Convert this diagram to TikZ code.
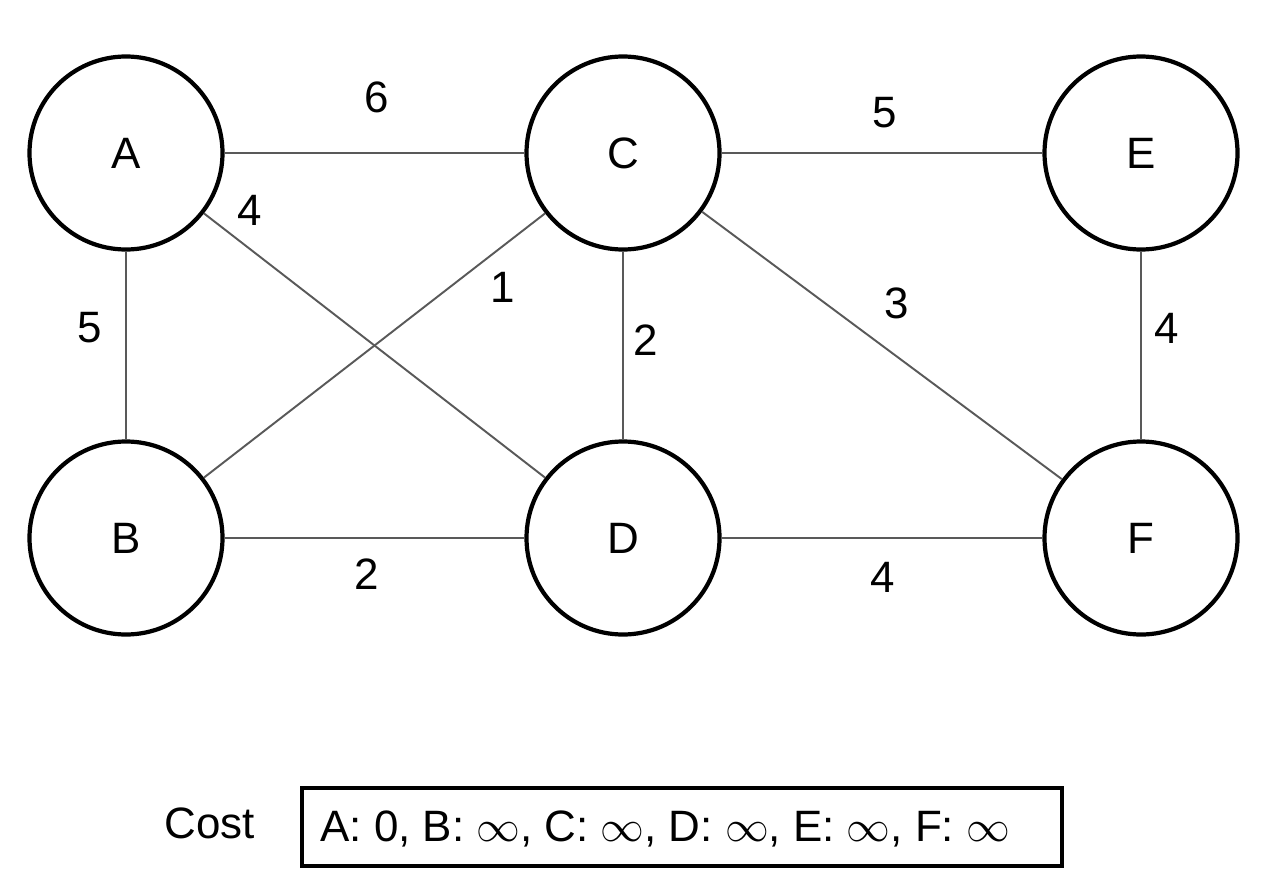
\documentclass[tikz,border=0pt]{standalone}
\usepackage{fontspec}
\setmainfont{Liberation Sans}
\begin{document}
\begin{tikzpicture}[x=0.02cm,y=-0.02cm,
  vertex/.style={circle,draw=black,line width=2.4pt,minimum size=193*0.02cm,inner sep=0pt,font=\fontsize{25}{30}\selectfont},
  edge/.style={draw=black!65,line width=1.1pt},
  wlabel/.style={inner sep=0pt,font=\fontsize{25}{30}\selectfont}]
\useasboundingbox (0,0) rectangle (1266,892);
% vertices
\node[vertex] (A) at (126,153) {A};
\node[vertex] (C) at (623,153) {C};
\node[vertex] (E) at (1141,153) {E};
\node[vertex] (B) at (126,538) {B};
\node[vertex] (D) at (623,538) {D};
\node[vertex] (F) at (1141,538) {F};
% edges
\draw[edge] (A) -- (C);
\draw[edge] (C) -- (E);
\draw[edge] (A) -- (B);
\draw[edge] (A) -- (D);
\draw[edge] (B) -- (C);
\draw[edge] (C) -- (D);
\draw[edge] (C) -- (F);
\draw[edge] (E) -- (F);
\draw[edge] (B) -- (D);
\draw[edge] (D) -- (F);
% weights
\node[wlabel] (wAC) at (377,97) {6};
\node[wlabel] (wCE) at (885,113) {5};
\node[wlabel] (wAD) at (250,210) {4};
\node[wlabel] (wAB) at (90,328) {5};
\node[wlabel] (wBC) at (503,287) {1};
\node[wlabel] (wCD) at (646,340) {2};
\node[wlabel] (wCF) at (897,303) {3};
\node[wlabel] (wEF) at (1167,328) {4};
\node[wlabel] (wBD) at (367,574) {2};
\node[wlabel] (wDF) at (883,577) {4};
% cost table
\node[wlabel] (costlbl) at (210,823) {Cost};
\draw[line width=2.2pt] (302,788) rectangle (1062,866);
\node[anchor=west,inner sep=0pt,font=\fontsize{25}{30}\selectfont] (costs) at (320,829)
  {A: 0, B: $\infty$, C: $\infty$, D: $\infty$, E: $\infty$, F: $\infty$};
\end{tikzpicture}
\end{document}
